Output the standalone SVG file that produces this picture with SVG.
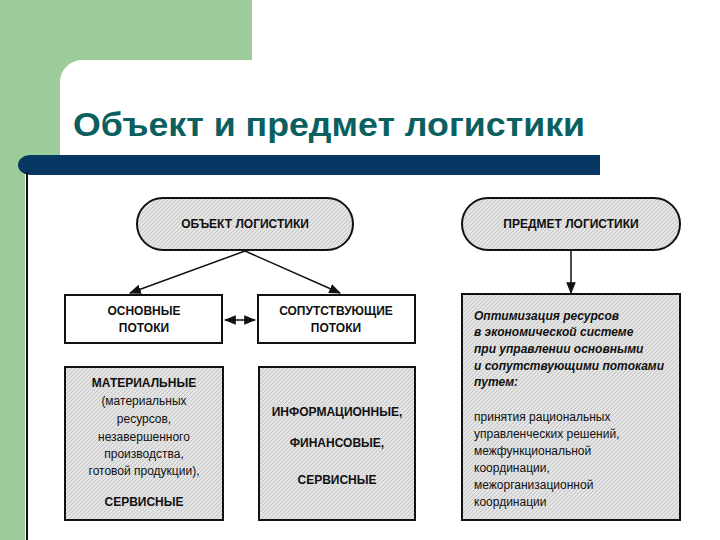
<svg xmlns="http://www.w3.org/2000/svg" width="720" height="540" viewBox="0 0 720 540">
<defs>
<pattern id="hatch" width="4" height="4" patternUnits="userSpaceOnUse">
<rect width="4" height="4" fill="#e4e4e4"/><path d="M0 4L4 0" stroke="#c4c4c4" stroke-width="1"/>
</pattern>
<marker id="ah" viewBox="0 0 10 10" refX="9" refY="5" markerWidth="8" markerHeight="8" orient="auto-start-reverse"><path d="M0 1L10 5L0 9z" fill="#111"/></marker>
</defs>
<style>
.b{stroke:#111;stroke-width:2}
.t{font-family:"Liberation Sans",Arial,sans-serif;fill:#111;font-size:12px;text-anchor:middle}
.h{font-weight:bold}
.i{font-style:italic;font-weight:bold;text-anchor:start}
.l{text-anchor:start}
.c{stroke:#111;stroke-width:1.5;fill:none}
</style>
<rect width="720" height="540" fill="#fff"/>
<rect x="0" y="0" width="252" height="540" fill="#9ccc99"/>
<rect x="60" y="60" width="660" height="480" rx="22" fill="#fff"/>
<rect x="25" y="160" width="700" height="380" fill="#fff"/>
<rect x="0" y="160" width="25" height="380" fill="#9ccc99"/>
<path d="M30 155H600V175H30A12 10 0 0 1 18 165A12 10 0 0 1 30 155Z" fill="#073763"/>
<line x1="27" y1="172" x2="27" y2="540" stroke="#111" stroke-width="2"/>
<text x="73" y="136" textLength="512" lengthAdjust="spacingAndGlyphs" style="font-family:'Liberation Sans',Arial,sans-serif;font-size:33px;font-weight:bold;fill:#0b5f5f">Объект и предмет логистики</text>
<g id="connectors">
<line class="c" x1="245" y1="251" x2="130" y2="293" marker-end="url(#ah)"/>
<line class="c" x1="245" y1="251" x2="340" y2="293" marker-end="url(#ah)"/>
<line class="c" x1="225" y1="320" x2="255" y2="320" marker-start="url(#ah)" marker-end="url(#ah)"/>
<line class="c" x1="571" y1="251" x2="571" y2="293" marker-end="url(#ah)"/>
</g>
<g id="object"><rect class="b" x="137" y="198" width="216" height="52" rx="26" fill="url(#hatch)"/><text class="t h" x="245" y="228">ОБЪЕКТ ЛОГИСТИКИ</text></g>
<g id="subject"><rect class="b" x="462" y="198" width="218" height="52" rx="26" fill="url(#hatch)"/><text class="t h" x="571" y="228">ПРЕДМЕТ ЛОГИСТИКИ</text></g>
<g id="main"><rect class="b" x="65" y="295" width="157" height="48" fill="#fff"/><text class="t h" x="144" y="315">ОСНОВНЫЕ</text><text class="t h" x="144" y="332">ПОТОКИ</text></g>
<g id="accomp"><rect class="b" x="258" y="295" width="157" height="48" fill="#fff"/><text class="t h" x="336" y="315">СОПУТСТВУЮЩИЕ</text><text class="t h" x="336" y="332">ПОТОКИ</text></g>
<g id="material"><rect class="b" x="65" y="367" width="158" height="153" fill="url(#hatch)"/>
<text class="t h" x="144" y="387">МАТЕРИАЛЬНЫЕ</text>
<text class="t" x="144" y="405">(материальных</text>
<text class="t" x="144" y="423">ресурсов,</text>
<text class="t" x="144" y="441">незавершенного</text>
<text class="t" x="144" y="458">производства,</text>
<text class="t" x="144" y="475">готовой продукции),</text>
<text class="t h" x="144" y="506">СЕРВИСНЫЕ</text></g>
<g id="info"><rect class="b" x="259" y="367" width="156" height="153" fill="url(#hatch)"/>
<text class="t h" x="337" y="416">ИНФОРМАЦИОННЫЕ,</text>
<text class="t h" x="337" y="447">ФИНАНСОВЫЕ,</text>
<text class="t h" x="337" y="484">СЕРВИСНЫЕ</text></g>
<g id="optim"><rect class="b" x="462" y="294" width="218" height="226" fill="url(#hatch)"/>
<text class="t i" x="474" y="320">Оптимизация ресурсов</text>
<text class="t i" x="474" y="336">в экономической системе</text>
<text class="t i" x="474" y="353">при управлении основными</text>
<text class="t i" x="474" y="370">и сопутствующими потоками</text>
<text class="t i" x="474" y="386">путем:</text>
<text class="t l" x="474" y="421">принятия рациональных</text>
<text class="t l" x="474" y="438">управленческих решений,</text>
<text class="t l" x="474" y="455">межфункциональной</text>
<text class="t l" x="474" y="472">координации,</text>
<text class="t l" x="474" y="489">межорганизационной</text>
<text class="t l" x="474" y="506">координации</text></g>
</svg>
